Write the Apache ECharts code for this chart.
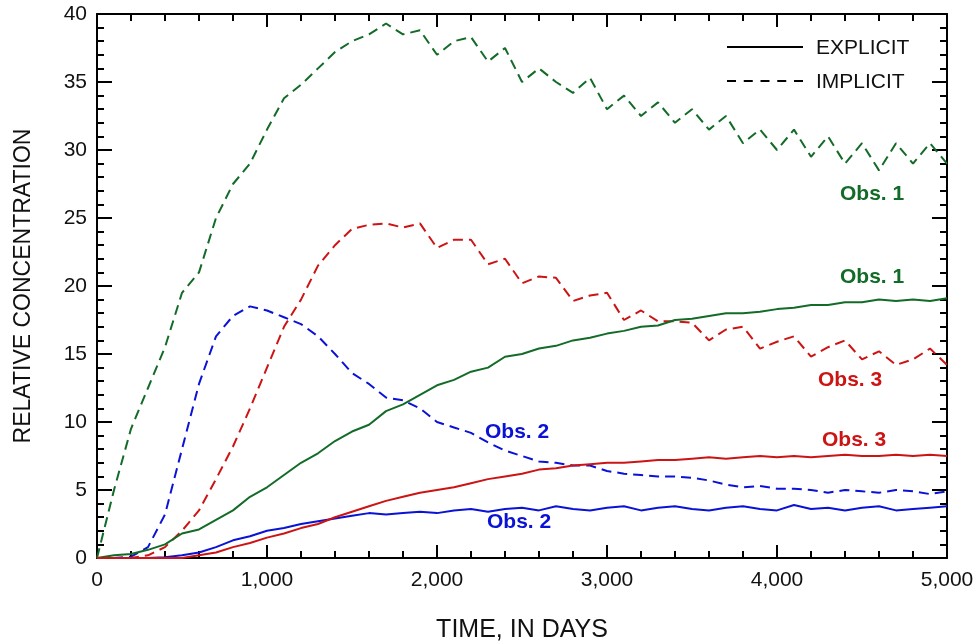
<!DOCTYPE html>
<html>
<head>
<meta charset="utf-8">
<script src="https://cdn.jsdelivr.net/npm/echarts@6/dist/echarts.min.js"></script>
<style>
  html, body { margin: 0; padding: 0; background: #fff; }
  #chart { width: 977px; height: 642px; }
</style>
</head>
<body>
<div id="chart"></div>
<script>
// time axis, days
const days = [0, 100, 200, 300, 400, 500, 600, 700, 800, 900,
  1000, 1100, 1200, 1300, 1400, 1500, 1600, 1700, 1800, 1900,
  2000, 2100, 2200, 2300, 2400, 2500, 2600, 2700, 2800, 2900,
  3000, 3100, 3200, 3300, 3400, 3500, 3600, 3700, 3800, 3900,
  4000, 4100, 4200, 4300, 4400, 4500, 4600, 4700, 4800, 4900, 5000];

// implicit (dashed)
const obs1Implicit = [0, 5, 9.5, 12.5, 15.5, 19.5, 21, 25, 27.5, 29,
  31.5, 33.8, 34.8, 36, 37.2, 38, 38.5, 39.3, 38.5, 38.8,
  37, 38, 38.3, 36.5, 37.5, 35, 36, 35, 34.2, 35.3,
  33, 34, 32.5, 33.5, 32, 33, 31.5, 32.5, 30.5, 31.5,
  30, 31.5, 29.5, 31, 29, 30.5, 28.5, 30.5, 29, 30.5, 29];
const obs2Implicit = [0, 0, 0.1, 0.8, 3.2, 8, 12.8, 16.3, 17.8, 18.5,
  18.2, 17.7, 17.2, 16.3, 15, 13.6, 12.8, 11.8, 11.6, 11,
  10, 9.6, 9.2, 8.5, 7.9, 7.5, 7.1, 7, 6.8, 6.8,
  6.4, 6.2, 6.1, 6, 6, 5.9, 5.7, 5.4, 5.2, 5.3,
  5.1, 5.1, 5, 4.8, 5, 4.9, 4.8, 5, 4.9, 4.7, 4.9];
const obs3Implicit = [0, 0, 0, 0.2, 0.8, 2, 3.5, 5.8, 8.2, 11,
  14, 17, 19, 21.5, 23, 24.2, 24.5, 24.6, 24.3, 24.6,
  22.8, 23.4, 23.4, 21.6, 22, 20.2, 20.7, 20.6, 18.9, 19.3,
  19.5, 17.5, 18.2, 17.4, 17.4, 17.3, 16, 16.8, 17, 15.4,
  15.9, 16.3, 14.8, 15.5, 16, 14.6, 15.2, 14.2, 14.6, 15.4, 14.2];

// explicit (solid)
const obs1Explicit = [0, 0.2, 0.3, 0.6, 1.0, 1.8, 2.1, 2.8, 3.5, 4.5,
  5.2, 6.1, 7, 7.7, 8.6, 9.3, 9.8, 10.8, 11.3, 12,
  12.7, 13.1, 13.7, 14, 14.8, 15, 15.4, 15.6, 16, 16.2,
  16.5, 16.7, 17, 17.1, 17.5, 17.6, 17.8, 18, 18, 18.1,
  18.3, 18.4, 18.6, 18.6, 18.8, 18.8, 19, 18.9, 19, 18.9, 19.1];
const obs2Explicit = [0, 0, 0, 0, 0.05, 0.2, 0.4, 0.8, 1.3, 1.6,
  2.0, 2.2, 2.5, 2.7, 2.9, 3.1, 3.3, 3.2, 3.3, 3.4,
  3.3, 3.5, 3.6, 3.4, 3.6, 3.7, 3.5, 3.8, 3.6, 3.5,
  3.7, 3.8, 3.5, 3.7, 3.8, 3.6, 3.5, 3.7, 3.8, 3.6,
  3.5, 3.9, 3.6, 3.7, 3.5, 3.7, 3.8, 3.5, 3.6, 3.7, 3.8];
const obs3Explicit = [0, 0, 0, 0, 0, 0, 0.2, 0.4, 0.8, 1.1,
  1.5, 1.8, 2.2, 2.5, 3, 3.4, 3.8, 4.2, 4.5, 4.8,
  5, 5.2, 5.5, 5.8, 6, 6.2, 6.5, 6.6, 6.8, 6.9,
  7, 7, 7.1, 7.2, 7.2, 7.3, 7.4, 7.3, 7.4, 7.5,
  7.4, 7.5, 7.4, 7.5, 7.6, 7.5, 7.5, 7.6, 7.5, 7.6, 7.5];

const GREEN = '#136b28';
const RED = '#cc1414';
const BLUE = '#0a12d6';
const FONT = '"Liberation Sans", Arial, Helvetica, sans-serif';
const DASH = [10, 6];

const pairs = vals => days.map((d, i) => [d, vals[i]]);

const chart = echarts.init(document.getElementById('chart'));

const lineSeries = (vals, color, dashed) => ({
  type: 'line',
  data: pairs(vals),
  symbol: 'none',
  silent: true,
  lineStyle: { color: color, width: 2, type: dashed ? DASH : 'solid' },
  z: dashed ? 3 : 4
});

// one axis per tick set, so every tick points inward
const tickAxis = (position, max, interval, len, showLine) => ({
  type: 'value', position: position, min: 0, max: max, interval: interval,
  axisLine: { show: showLine, onZero: false, lineStyle: { color: '#000', width: 2 } },
  axisTick: { show: true, inside: true, length: len, lineStyle: { color: '#000', width: 2 } },
  axisLabel: { show: false },
  splitLine: { show: false }
});

const xMain = tickAxis('bottom', 5000, 1000, 13, true);
xMain.name = 'TIME, IN DAYS';
xMain.nameLocation = 'middle';
xMain.nameGap = 60;
xMain.nameTextStyle = { fontFamily: FONT, fontSize: 25, color: '#111' };
xMain.axisLabel = {
  show: true, fontFamily: FONT, fontSize: 21, color: '#111', margin: 12,
  formatter: v => v.toLocaleString('en-US')
};

const yMain = tickAxis('left', 40, 5, 15, true);
yMain.name = 'RELATIVE CONCENTRATION';
yMain.nameLocation = 'middle';
yMain.nameGap = 62;
yMain.nameTextStyle = { fontFamily: FONT, fontSize: 23, color: '#111' };
yMain.axisLabel = { show: true, fontFamily: FONT, fontSize: 21, color: '#111', margin: 10 };

const option = {
  animation: false,
  grid: { left: 97, right: 30, top: 14, bottom: 84, outerBoundsMode: 'none', containLabel: false },
  xAxis: [
    xMain,
    tickAxis('bottom', 5000, 200, 7, false),
    tickAxis('top', 5000, 1000, 13, true),
    tickAxis('top', 5000, 200, 7, false)
  ],
  yAxis: [
    yMain,
    tickAxis('left', 40, 1, 7, false),
    tickAxis('right', 40, 5, 15, true),
    tickAxis('right', 40, 1, 7, false)
  ],
  series: [
    lineSeries(obs1Implicit, GREEN, true),
    lineSeries(obs2Implicit, BLUE, true),
    lineSeries(obs3Implicit, RED, true),
    lineSeries(obs1Explicit, GREEN, false),
    lineSeries(obs2Explicit, BLUE, false),
    lineSeries(obs3Explicit, RED, false)
  ],
  graphic: [
    // legend
    { type: 'line', shape: { x1: 727, y1: 47, x2: 803, y2: 47 }, style: { stroke: '#000', lineWidth: 2 } },
    { type: 'text', left: 816, top: 38, style: { text: 'EXPLICIT', fill: '#111', font: '21px ' + FONT } },
    { type: 'line', shape: { x1: 727, y1: 81, x2: 803, y2: 81 }, style: { stroke: '#000', lineWidth: 2, lineDash: [9, 7.75] } },
    { type: 'text', left: 816, top: 72, style: { text: 'IMPLICIT', fill: '#111', font: '21px ' + FONT } },
    // curve labels
    { type: 'text', left: 840, top: 184, style: { text: 'Obs. 1', fill: GREEN, font: 'bold 21px ' + FONT } },
    { type: 'text', left: 840, top: 267, style: { text: 'Obs. 1', fill: GREEN, font: 'bold 21px ' + FONT } },
    { type: 'text', left: 818, top: 370, style: { text: 'Obs. 3', fill: RED, font: 'bold 21px ' + FONT } },
    { type: 'text', left: 822, top: 430, style: { text: 'Obs. 3', fill: RED, font: 'bold 21px ' + FONT } },
    { type: 'text', left: 485, top: 422, style: { text: 'Obs. 2', fill: BLUE, font: 'bold 21px ' + FONT } },
    { type: 'text', left: 487, top: 512, style: { text: 'Obs. 2', fill: BLUE, font: 'bold 21px ' + FONT } }
  ]
};

chart.setOption(option);
</script>
</body>
</html>
